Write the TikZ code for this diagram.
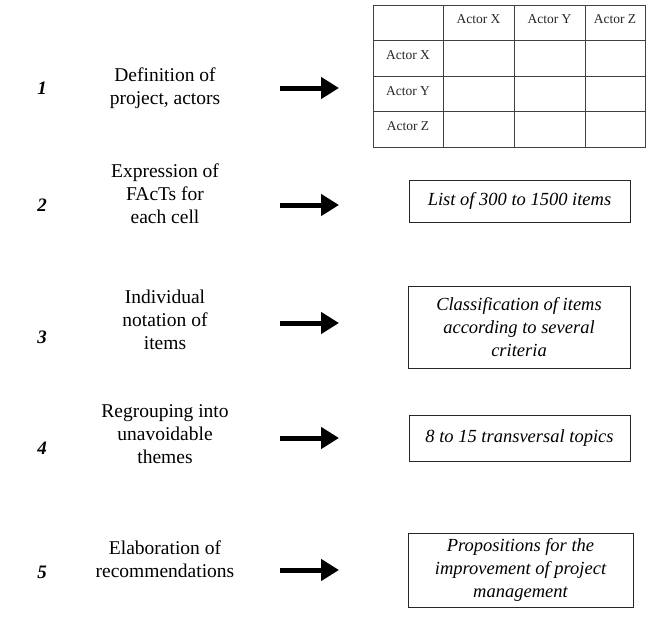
\documentclass[tikz,border=0pt]{standalone}
\usepackage{fontspec}
\setmainfont{Liberation Serif}
\usetikzlibrary{arrows.meta}
\begin{document}
\begin{tikzpicture}[x=1pt,y=-1pt,
  num/.style={font=\fontsize{19}{23}\selectfont\bfseries\itshape},
  lefttext/.style={align=center,font=\fontsize{19.5}{23}\selectfont},
  resbox/.style={draw=black!85,line width=1pt,align=center,inner sep=0pt,
    font=\fontsize{18.5}{23}\selectfont\itshape},
  cell/.style={draw=black!75,line width=0.9pt,inner sep=0pt,minimum height=35.5pt},
  celltext/.style={inner sep=0pt,text=black!85,font=\fontsize{13.5}{16}\selectfont},
  bigarrow/.style={line width=5pt,-{Triangle[length=18pt,width=21pt]}}]
\useasboundingbox (0,0) rectangle (650,619);
% table cells
\foreach \r/\y in {0/22.75,1/58.25,2/93.75,3/129.25}{
  \node[cell,minimum width=70pt] (c\r0) at (408,\y) {};
  \node[cell,minimum width=71pt] (c\r1) at (478.5,\y) {};
  \node[cell,minimum width=71pt] (c\r2) at (549.5,\y) {};
  \node[cell,minimum width=60pt] (c\r3) at (615,\y) {};
}
% table labels
\node[celltext] (h1) at ([yshift=3.5pt]c01.center) {Actor X};
\node[celltext] (h2) at ([yshift=3.5pt]c02.center) {Actor Y};
\node[celltext] (h3) at ([yshift=3.5pt]c03.center) {Actor Z};
\node[celltext] (r1) at ([yshift=3pt]c10.center) {Actor X};
\node[celltext] (r2) at ([yshift=3pt]c20.center) {Actor Y};
\node[celltext] (r3) at ([yshift=3pt]c30.center) {Actor Z};
% numbers
\node[num] (n1) at (42,88) {1};
\node[num] (n2) at (42,205) {2};
\node[num] (n3) at (42,337) {3};
\node[num] (n4) at (42,448) {4};
\node[num] (n5) at (42,572) {5};
% left texts
\node[lefttext] (t1) at (165,88) {Definition of\\project, actors};
\node[lefttext] (t2) at (165,194) {Expression of\\FAcTs for\\each cell};
\node[lefttext] (t3) at (165,320) {Individual\\notation of\\items};
\node[lefttext] (t4) at (165,434) {Regrouping into\\unavoidable\\themes};
\node[lefttext] (t5) at (165,559) {Elaboration of\\recommendations};
% result boxes
\node[resbox,minimum width=221pt,minimum height=42pt] (b2) at (519.5,201) {List of 300 to 1500 items};
\node[resbox,minimum width=222pt,minimum height=82pt] (b3) at (519,327) {Classification of items\\according to several\\criteria};
\node[resbox,minimum width=221pt,minimum height=46pt] (b4) at (519.5,438) {8 to 15 transversal topics};
\node[resbox,minimum width=225pt,minimum height=74pt] (b5) at (520.5,570) {Propositions for the\\improvement of project\\management};
% arrows
\foreach \i/\y in {1/88,2/205,3/323,4/438,5/570}{
  \coordinate (a\i s) at (280,\y);
  \coordinate (a\i e) at (339,\y);
  \draw[bigarrow] (a\i s) -- (a\i e);
}
\end{tikzpicture}
\end{document}
